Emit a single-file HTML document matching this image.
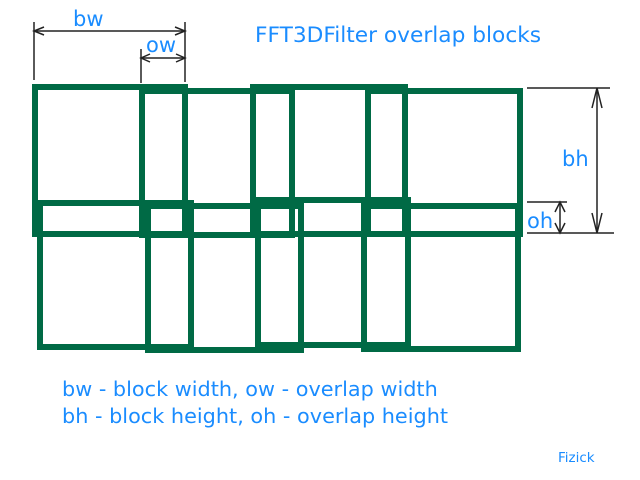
<!DOCTYPE html>
<html><head><meta charset="utf-8"><style>
html,body{margin:0;padding:0;background:#fff;}
svg{display:block;}
text{font-family:"DejaVu Sans","Liberation Sans",sans-serif;fill:#1a8cff;}
</style></head><body>
<svg width="640" height="480" viewBox="0 0 640 480">
<g id="blocks" fill="none" stroke="#006a45" stroke-width="6"></g>
<g stroke="#222" stroke-width="1.5" fill="none">
  <line x1="34" y1="22" x2="34" y2="80"/>
  <line x1="185" y1="22" x2="185" y2="82"/>
  <line x1="34" y1="31" x2="185" y2="31"/>
  <path d="M44 27 L34 31 L44 35 M175 27 L185 31 L175 35"/>
  <line x1="141" y1="49" x2="141" y2="83"/>
  <line x1="141" y1="58" x2="185" y2="58"/>
  <path d="M150 54 L141 58 L150 62 M176 54 L185 58 L176 62"/>
  <line x1="527" y1="88" x2="610" y2="88"/>
  <line x1="527" y1="233" x2="614" y2="233"/>
  <line x1="597" y1="88" x2="597" y2="233"/>
  <path d="M592 108 L597 88 L602 108 M592 213 L597 233 L602 213"/>
  <line x1="527" y1="202" x2="567" y2="202"/>
  <line x1="560" y1="202" x2="560" y2="233"/>
  <path d="M555 212 L560 202 L565 212 M555 223 L560 233 L565 223"/>
</g>
<text x="73" y="26" font-size="21">bw</text>
<text x="146" y="52" font-size="21">ow</text>
<text x="562" y="166" font-size="21">bh</text>
<text x="527" y="228" font-size="21">oh</text>
<text x="255" y="42" font-size="21.7">FFT3DFilter overlap blocks</text>
<text x="62" y="396" font-size="20.8">bw - block width, ow - overlap width</text>
<text x="62" y="423" font-size="20.8">bh - block height, oh - overlap height</text>
<text x="558" y="462" font-size="13.5">Fizick</text>
</svg>
<script>
const blockX = [35, 142, 253, 368, 40, 148, 258, 364];
const blockY = [87, 91, 87, 91, 203, 206, 200, 206];
const blockW = [150, 150, 152, 152, 151, 153, 150, 154];
const blockH = [147, 144, 147, 143, 144, 144, 145, 143];
const g = document.getElementById('blocks');
for (let i = 0; i < blockX.length; i++) {
  const r = document.createElementNS('http://www.w3.org/2000/svg', 'rect');
  r.setAttribute('x', blockX[i]);
  r.setAttribute('y', blockY[i]);
  r.setAttribute('width', blockW[i]);
  r.setAttribute('height', blockH[i]);
  
  
  g.appendChild(r);
}
</script>
</body></html>
